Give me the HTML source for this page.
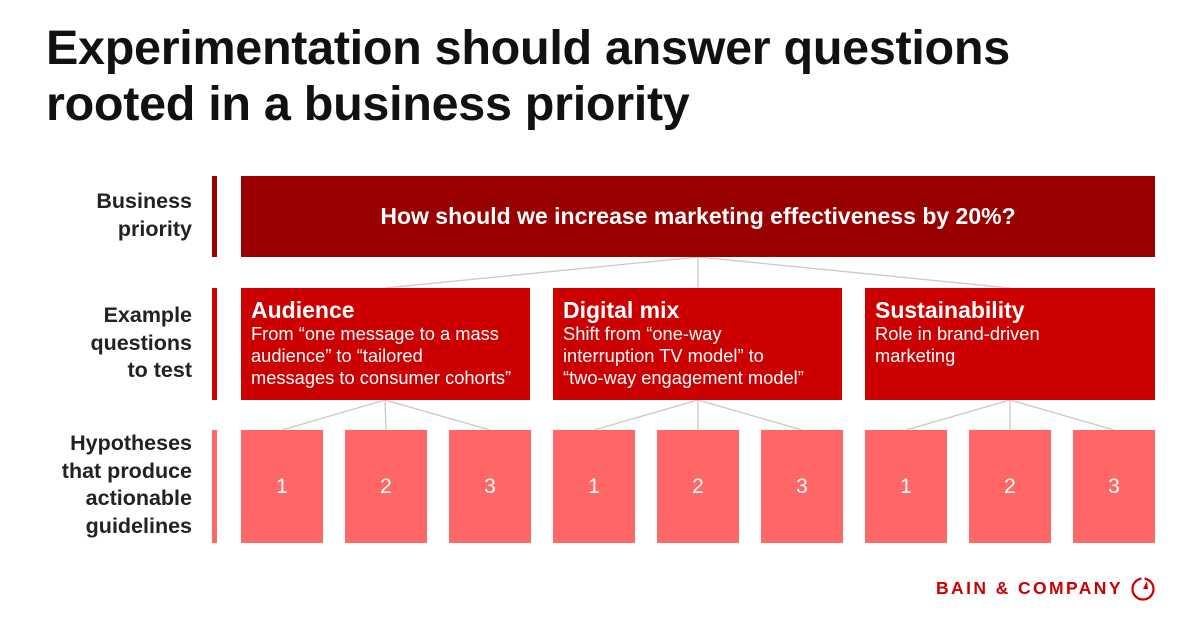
<!DOCTYPE html>
<html><head><meta charset="utf-8"><style>
body{margin:0;width:1200px;height:627px;background:#fff;font-family:"Liberation Sans",sans-serif;position:relative;overflow:hidden}
.a{position:absolute}
h1{position:absolute;left:46px;top:20px;margin:0;font-size:48.5px;line-height:56px;font-weight:bold;color:#111;letter-spacing:-0.3px;white-space:nowrap}
.lbl{position:absolute;left:10px;width:182px;text-align:right;font-weight:bold;font-size:21.5px;line-height:27.5px;color:#222}
.bar{position:absolute;left:212px;width:5px}
.mid{background:#cc0000;color:#fff;padding:9px 10px;box-sizing:border-box;white-space:nowrap}
.mid b{display:block;font-size:23px;line-height:26px}
.mid span{display:block;font-size:18.3px;line-height:22px}
.sm{background:#ff6666;color:#fff;font-size:21px;display:flex;align-items:center;justify-content:center}
</style></head><body>
<h1>Experimentation should answer questions<br>rooted in a business priority</h1>

<div class="bar" style="top:176px;height:81px;background:#990000"></div>
<div class="bar" style="top:288px;height:112px;background:#cc0000"></div>
<div class="bar" style="top:430px;height:113px;background:#ff6666"></div>

<div class="lbl" style="top:188px">Business<br>priority</div>
<div class="lbl" style="top:302px">Example<br>questions<br>to test</div>
<div class="lbl" style="top:430px">Hypotheses<br>that produce<br>actionable<br>guidelines</div>

<svg class="a" style="left:0;top:0" width="1200" height="627">
<g stroke="#c8c8c8" stroke-width="1.3" fill="none">
<line x1="698" y1="257" x2="385" y2="288"/><line x1="698" y1="257" x2="698" y2="288"/><line x1="698" y1="257" x2="1010" y2="288"/>
<line x1="385" y1="400" x2="282" y2="430"/><line x1="385" y1="400" x2="386" y2="430"/><line x1="385" y1="400" x2="490" y2="430"/>
<line x1="698" y1="400" x2="594" y2="430"/><line x1="698" y1="400" x2="698" y2="430"/><line x1="698" y1="400" x2="802" y2="430"/>
<line x1="1010" y1="400" x2="906" y2="430"/><line x1="1010" y1="400" x2="1010" y2="430"/><line x1="1010" y1="400" x2="1114" y2="430"/>
</g></svg>

<div class="a" style="left:241px;top:176px;width:914px;height:81px;background:#990000;color:#fff;font-weight:bold;font-size:23px;display:flex;align-items:center;justify-content:center">How should we increase marketing effectiveness by 20%?</div>

<div class="a mid" style="left:241px;top:288px;width:289px;height:112px"><b>Audience</b><span>From “one message to a mass<br>audience” to “tailored<br>messages to consumer cohorts”</span></div>
<div class="a mid" style="left:553px;top:288px;width:289px;height:112px"><b>Digital mix</b><span>Shift from “one-way<br>interruption TV model” to<br>“two-way engagement model”</span></div>
<div class="a mid" style="left:865px;top:288px;width:290px;height:112px"><b>Sustainability</b><span>Role in brand-driven<br>marketing</span></div>

<div class="a sm" style="left:241px;top:430px;width:82px;height:113px">1</div>
<div class="a sm" style="left:345px;top:430px;width:82px;height:113px">2</div>
<div class="a sm" style="left:449px;top:430px;width:82px;height:113px">3</div>
<div class="a sm" style="left:553px;top:430px;width:82px;height:113px">1</div>
<div class="a sm" style="left:657px;top:430px;width:82px;height:113px">2</div>
<div class="a sm" style="left:761px;top:430px;width:82px;height:113px">3</div>
<div class="a sm" style="left:865px;top:430px;width:82px;height:113px">1</div>
<div class="a sm" style="left:969px;top:430px;width:82px;height:113px">2</div>
<div class="a sm" style="left:1073px;top:430px;width:82px;height:113px">3</div>

<div class="a" style="left:936px;top:578px;font-size:17.5px;font-weight:bold;color:#cc0000;letter-spacing:2.4px;white-space:nowrap">BAIN &amp; COMPANY</div>
<svg class="a" style="left:1130px;top:576px" width="26" height="26">
<circle cx="13" cy="13" r="10.5" fill="none" stroke="#cc0000" stroke-width="2.2"/>
<line x1="13" y1="0" x2="13" y2="5" stroke="#fff" stroke-width="3"/>
<polygon points="13,13 17,5 18,13" fill="#cc0000"/></svg>
</body></html>
